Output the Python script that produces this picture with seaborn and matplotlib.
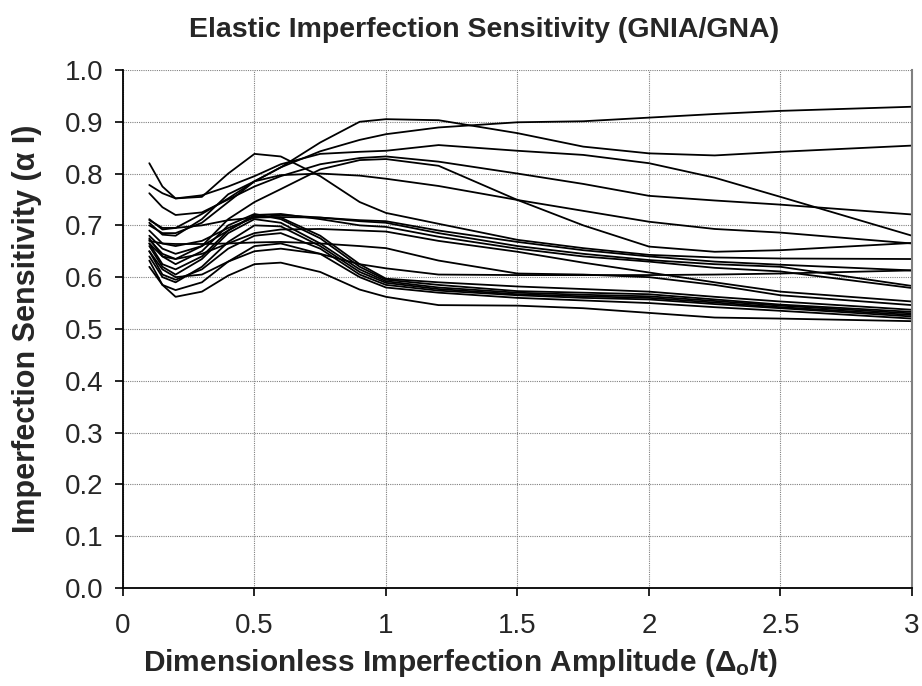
import numpy as np
import pandas as pd
import matplotlib
matplotlib.use("Agg")
import matplotlib.pyplot as plt
import seaborn as sns

# ---- data ----
X = [0.1, 0.15, 0.2, 0.3, 0.4, 0.5, 0.6, 0.75, 0.9, 1.0, 1.2, 1.5, 1.75, 2.0, 2.25, 2.5, 3.0]

curve_A = [0.700, 0.685, 0.685, 0.705, 0.745, 0.785, 0.812, 0.843, 0.865, 0.876, 0.889, 0.899, 0.901, 0.908, 0.915, 0.921, 0.929]
curve_B = [0.712, 0.692, 0.695, 0.722, 0.752, 0.785, 0.812, 0.860, 0.900, 0.905, 0.903, 0.878, 0.852, 0.839, 0.835, 0.842, 0.854]
curve_E = [0.778, 0.762, 0.752, 0.758, 0.775, 0.795, 0.818, 0.838, 0.842, 0.844, 0.855, 0.844, 0.836, 0.820, 0.792, 0.755, 0.680]
curve_C = [0.820, 0.775, 0.752, 0.755, 0.800, 0.838, 0.833, 0.795, 0.745, 0.724, 0.703, 0.672, 0.656, 0.643, 0.638, 0.636, 0.635]
curve_D = [0.665, 0.640, 0.635, 0.660, 0.712, 0.745, 0.770, 0.808, 0.826, 0.828, 0.815, 0.749, 0.700, 0.659, 0.649, 0.652, 0.666]
curve_F = [0.762, 0.735, 0.720, 0.725, 0.750, 0.775, 0.795, 0.818, 0.830, 0.833, 0.823, 0.800, 0.780, 0.757, 0.748, 0.740, 0.721]
curve_G = [0.705, 0.682, 0.680, 0.712, 0.760, 0.785, 0.797, 0.800, 0.796, 0.790, 0.776, 0.749, 0.728, 0.707, 0.693, 0.686, 0.665]
curve_M1 = [0.710, 0.695, 0.695, 0.700, 0.710, 0.715, 0.716, 0.715, 0.710, 0.708, 0.690, 0.668, 0.652, 0.640, 0.630, 0.624, 0.613]
curve_M2 = [0.690, 0.665, 0.660, 0.670, 0.695, 0.715, 0.720, 0.715, 0.708, 0.705, 0.685, 0.660, 0.645, 0.633, 0.625, 0.620, 0.583]
curve_M3 = [0.670, 0.665, 0.664, 0.664, 0.665, 0.667, 0.668, 0.665, 0.660, 0.656, 0.632, 0.607, 0.605, 0.600, 0.585, 0.565, 0.546]
curve_M4 = [0.680, 0.655, 0.645, 0.660, 0.690, 0.720, 0.722, 0.712, 0.700, 0.697, 0.678, 0.655, 0.640, 0.630, 0.618, 0.611, 0.579]
curve_M5 = [0.650, 0.615, 0.600, 0.605, 0.630, 0.650, 0.655, 0.645, 0.625, 0.617, 0.605, 0.604, 0.604, 0.604, 0.605, 0.607, 0.613]
curve_M6 = [0.672, 0.645, 0.635, 0.645, 0.665, 0.685, 0.692, 0.693, 0.690, 0.688, 0.670, 0.649, 0.628, 0.609, 0.590, 0.572, 0.553]
curve_L1 = [0.665, 0.625, 0.615, 0.640, 0.690, 0.718, 0.715, 0.680, 0.625, 0.597, 0.590, 0.582, 0.577, 0.572, 0.562, 0.553, 0.537]
curve_L2 = [0.675, 0.640, 0.625, 0.650, 0.700, 0.722, 0.712, 0.675, 0.620, 0.595, 0.585, 0.573, 0.570, 0.567, 0.557, 0.547, 0.533]
curve_L3 = [0.660, 0.620, 0.605, 0.635, 0.685, 0.712, 0.705, 0.665, 0.615, 0.592, 0.580, 0.570, 0.566, 0.563, 0.554, 0.545, 0.530]
curve_L4 = [0.640, 0.600, 0.590, 0.620, 0.668, 0.700, 0.698, 0.660, 0.610, 0.589, 0.577, 0.567, 0.563, 0.560, 0.551, 0.542, 0.527]
curve_L5 = [0.650, 0.605, 0.595, 0.615, 0.655, 0.680, 0.685, 0.655, 0.605, 0.585, 0.574, 0.565, 0.560, 0.557, 0.548, 0.540, 0.524]
curve_L6 = [0.620, 0.585, 0.575, 0.590, 0.630, 0.660, 0.665, 0.645, 0.600, 0.580, 0.570, 0.560, 0.555, 0.550, 0.542, 0.535, 0.520]
curve_L7 = [0.632, 0.585, 0.562, 0.572, 0.603, 0.625, 0.628, 0.610, 0.576, 0.562, 0.546, 0.545, 0.540, 0.531, 0.522, 0.520, 0.515]

curves = {
    "A": curve_A, "B": curve_B, "E": curve_E, "C": curve_C, "D": curve_D,
    "F": curve_F, "G": curve_G, "M1": curve_M1, "M2": curve_M2, "M3": curve_M3,
    "M4": curve_M4, "M5": curve_M5, "M6": curve_M6, "L1": curve_L1, "L2": curve_L2,
    "L3": curve_L3, "L4": curve_L4, "L5": curve_L5, "L6": curve_L6, "L7": curve_L7,
}

x_ticks = [0, 0.5, 1, 1.5, 2, 2.5, 3]
x_tick_labels = ["0", "0.5", "1", "1.5", "2", "2.5", "3"]
y_ticks = [0.0, 0.1, 0.2, 0.3, 0.4, 0.5, 0.6, 0.7, 0.8, 0.9, 1.0]
y_tick_labels = ["0.0", "0.1", "0.2", "0.3", "0.4", "0.5", "0.6", "0.7", "0.8", "0.9", "1.0"]

title = "Elastic Imperfection Sensitivity (GNIA/GNA)"
x_label = "Dimensionless Imperfection Amplitude (Δ$\\mathregular{_o}$/t)"
y_label = "Imperfection Sensitivity (α I)"

df = pd.concat(
    [pd.DataFrame({"x": X, "y": v, "curve": k}) for k, v in curves.items()],
    ignore_index=True,
)

sns.set_theme(style="white")
plt.rcParams["font.family"] = ["Liberation Sans", "DejaVu Sans"]
plt.rcParams["mathtext.default"] = "regular"

fig = plt.figure(figsize=(9.22, 6.86), dpi=100)
ax = fig.add_axes([0.1334, 0.143, 0.8557, 0.755])

sns.lineplot(data=df, x="x", y="y", units="curve", estimator=None,
             color="black", linewidth=1.3, ax=ax, legend=False)

ax.set_xlim(0, 3)
ax.set_ylim(0, 1.0)
ax.set_xticks(x_ticks)
ax.set_xticklabels(x_tick_labels)
ax.set_yticks(y_ticks)
ax.set_yticklabels(y_tick_labels)

ax.grid(True, color="#808080", linestyle=(0, (1, 1)), linewidth=0.8)
ax.set_axisbelow(True)

for side in ["left", "bottom"]:
    ax.spines[side].set_color("black")
    ax.spines[side].set_linewidth(1.3)
ax.spines["top"].set_visible(False)
ax.spines["right"].set_color("#808080")
ax.spines["right"].set_linewidth(1.5)

ax.tick_params(axis="both", which="major", direction="out", length=6,
               width=1.2, color="black", labelsize=20,
               bottom=True, left=True)
ax.tick_params(axis="x", pad=12)
ax.tick_params(axis="y", pad=8)

ax.set_xlabel(x_label, fontsize=21.5, fontweight="bold")
ax.xaxis.set_label_coords(0.428, -0.145)
ax.xaxis.label.set_verticalalignment("center")
ax.set_ylabel(y_label, fontsize=22, fontweight="bold")
ax.yaxis.set_label_coords(-0.122, 0.50)
ax.yaxis.label.set_verticalalignment("center")

fig.text(0.525, 1 - 30 / 686, title, fontsize=20.5, fontweight="bold",
         ha="center", va="center")

fig.savefig("out.png", dpi=100, facecolor="white")
